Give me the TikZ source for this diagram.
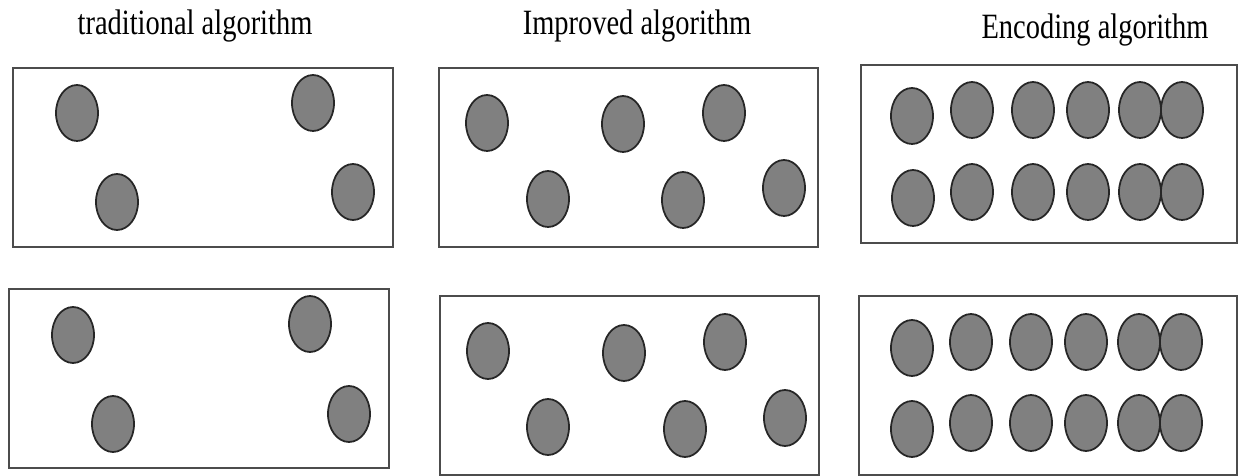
\documentclass[tikz,border=0pt]{standalone}
\usepackage{fontspec}
\setmainfont{Liberation Serif}
\usepackage{tikz}

\newcommand{\tallText}[1]{\scalebox{1}[1.25]{#1}}

\tikzset{
  panel/.style={line width=1.4pt, draw=black!70},
  blob/.style={line width=1pt, draw=black!85, fill=black!50},
  heading/.style={anchor=base, inner sep=0pt, font=\fontsize{16.2}{18}\selectfont}
}

\begin{document}
\begin{tikzpicture}[x=0.02cm, y=-0.02cm]
\useasboundingbox (0,0) rectangle (1238,476);
% headings
\node[heading] (tradtitle) at (195,35) {\tallText{traditional algorithm}};
\node[heading] (imprtitle) at (637,35) {\tallText{Improved algorithm}};
\node[heading] (enctitle) at (1095,39) {\tallText{Encoding algorithm}};
% traditional algorithm
\draw[panel] (13,68) rectangle (393,247);
\draw[blob] (77,113) ellipse [x radius=21, y radius=28];
\draw[blob] (117,202) ellipse [x radius=21, y radius=28];
\draw[blob] (313,103) ellipse [x radius=21, y radius=28];
\draw[blob] (353,192) ellipse [x radius=21, y radius=28];
\draw[panel] (9,289) rectangle (389,468);
\draw[blob] (73,335) ellipse [x radius=21, y radius=28];
\draw[blob] (113,424) ellipse [x radius=21, y radius=28];
\draw[blob] (310,324) ellipse [x radius=21, y radius=28];
\draw[blob] (349,414) ellipse [x radius=21, y radius=28];
% improved algorithm
\draw[panel] (439,68) rectangle (818,247);
\draw[blob] (487,123) ellipse [x radius=21, y radius=28];
\draw[blob] (623,124) ellipse [x radius=21, y radius=28];
\draw[blob] (724,113) ellipse [x radius=21, y radius=28];
\draw[blob] (548,199) ellipse [x radius=21, y radius=28];
\draw[blob] (683,200) ellipse [x radius=21, y radius=28];
\draw[blob] (784,188) ellipse [x radius=21, y radius=28];
\draw[panel] (440,296) rectangle (819,475);
\draw[blob] (488,351) ellipse [x radius=21, y radius=28];
\draw[blob] (624,353) ellipse [x radius=21, y radius=28];
\draw[blob] (725,342) ellipse [x radius=21, y radius=28];
\draw[blob] (548,427) ellipse [x radius=21, y radius=28];
\draw[blob] (685,429) ellipse [x radius=21, y radius=28];
\draw[blob] (785,418) ellipse [x radius=21, y radius=28];
% encoding algorithm
\draw[panel] (861,65) rectangle (1237,243);
\draw[blob] (912,116) ellipse [x radius=21, y radius=28];
\draw[blob] (913,198) ellipse [x radius=21, y radius=28];
\foreach \x in {972,1033,1088,1140,1182} {
  \draw[blob] (\x,110) ellipse [x radius=21, y radius=28];
  \draw[blob] (\x,192) ellipse [x radius=21, y radius=28];
}
\draw[panel] (859,296) rectangle (1237,475);
\draw[blob] (912,348) ellipse [x radius=21, y radius=28];
\draw[blob] (912,429) ellipse [x radius=21, y radius=28];
\foreach \x in {971,1031,1086,1139,1181} {
  \draw[blob] (\x,342) ellipse [x radius=21, y radius=28];
  \draw[blob] (\x,423) ellipse [x radius=21, y radius=28];
}
\end{tikzpicture}
\end{document}
